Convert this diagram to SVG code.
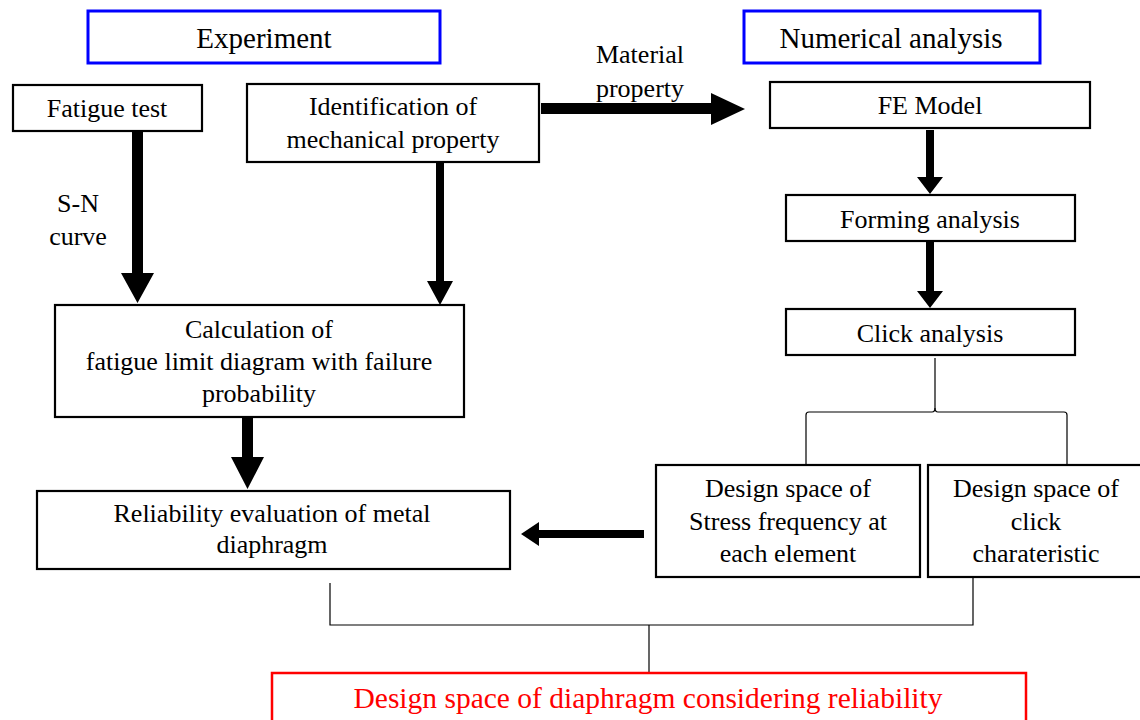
<svg xmlns="http://www.w3.org/2000/svg" width="1140" height="720" viewBox="0 0 1140 720">
<style>
text{font-family:'Times New Roman',Tinos,'Liberation Serif','Noto Serif','DejaVu Serif',FreeSerif,Times,serif;font-size:26px;fill:#000;text-anchor:middle}
.hd{font-size:29px}
.red{font-size:29.5px;fill:#ff0000}
.box{fill:#fff;stroke:#000;stroke-width:2.2}
.blue{fill:#fff;stroke:#0000ff;stroke-width:3}
.rbox{fill:#fff;stroke:#ff0000;stroke-width:2.5}
.thin{fill:none;stroke:#000;stroke-width:1.2}
.arr{fill:#000}
</style>
<rect width="1140" height="720" fill="#fff"/>
<g id="connectors">
  <polygon class="arr" points="132,131 143,131 143,273 154,273 137.5,303 121,273 132,273"/>
  <polygon class="arr" points="436,163 444,163 444,281 453,281 440,305 427,281 436,281"/>
  <polygon class="arr" points="541,103 711,103 711,93 745,109 711,125 711,114 541,114"/>
  <polygon class="arr" points="926,130 934,130 934,177 943,177 930,194 917,177 926,177"/>
  <polygon class="arr" points="926,242 934,242 934,291 943,291 930,308 917,291 926,291"/>
  <polygon class="arr" points="242,417 253,417 253,457 264,457 247.5,489 231,457 242,457"/>
  <polygon class="arr" points="644,530 539,530 539,522 521,534 539,546 539,538 644,538"/>
  <path class="thin" d="M935,358 L935,408 Q935,412 932,412 L809,412 Q806,412 806,415 L806,465"/>
  <path class="thin" d="M935,408 Q935,412 938,412 L1064,412 Q1067,412 1067,415 L1067,465"/>
  <path class="thin" d="M330,583 L330,625 L973,625 L973,578"/>
  <path class="thin" d="M649,625 L649,672"/>
</g>
<g id="experiment"><rect class="blue" x="88" y="11" width="352" height="52"/><text class="hd" x="264" y="48">Experiment</text></g>
<g id="numerical"><rect class="blue" x="744" y="11" width="296" height="52"/><text class="hd" x="891" y="48">Numerical analysis</text></g>
<g id="fatigue-test"><rect class="box" x="13" y="85" width="189" height="46"/><text x="107" y="117">Fatigue test</text></g>
<g id="identification"><rect class="box" x="247" y="84" width="292" height="78"/><text x="393" y="115">Identification of</text><text x="393" y="148">mechanical property</text></g>
<g id="material-label"><text x="640" y="63">Material</text><text x="640" y="97">property</text></g>
<g id="sn-label"><text x="78" y="212">S-N</text><text x="78" y="245">curve</text></g>
<g id="fe-model"><rect class="box" x="770" y="82" width="320" height="46"/><text x="930" y="114">FE Model</text></g>
<g id="forming"><rect class="box" x="786" y="195" width="289" height="46"/><text x="930" y="228">Forming analysis</text></g>
<g id="click"><rect class="box" x="786" y="309" width="289" height="46"/><text x="930" y="342">Click analysis</text></g>
<g id="calculation"><rect class="box" x="55" y="305" width="409" height="112"/><text x="259" y="338">Calculation of</text><text x="259" y="370">fatigue limit diagram with failure</text><text x="259" y="402">probability</text></g>
<g id="reliability"><rect class="box" x="37" y="491" width="473" height="78"/><text x="272" y="522">Reliability evaluation of metal</text><text x="272" y="553">diaphragm</text></g>
<g id="stress"><rect class="box" x="656" y="465" width="264" height="112"/><text x="788" y="497">Design space of</text><text x="788" y="530">Stress frequency at</text><text x="788" y="562">each element</text></g>
<g id="click-char"><rect class="box" x="928" y="465" width="216" height="112"/><text x="1036" y="497">Design space of</text><text x="1036" y="530">click</text><text x="1036" y="562">charateristic</text></g>
<g id="design-space"><rect class="rbox" x="272" y="673" width="754" height="52"/><text class="red" x="648" y="708">Design space of diaphragm considering reliability</text></g>
</svg>
